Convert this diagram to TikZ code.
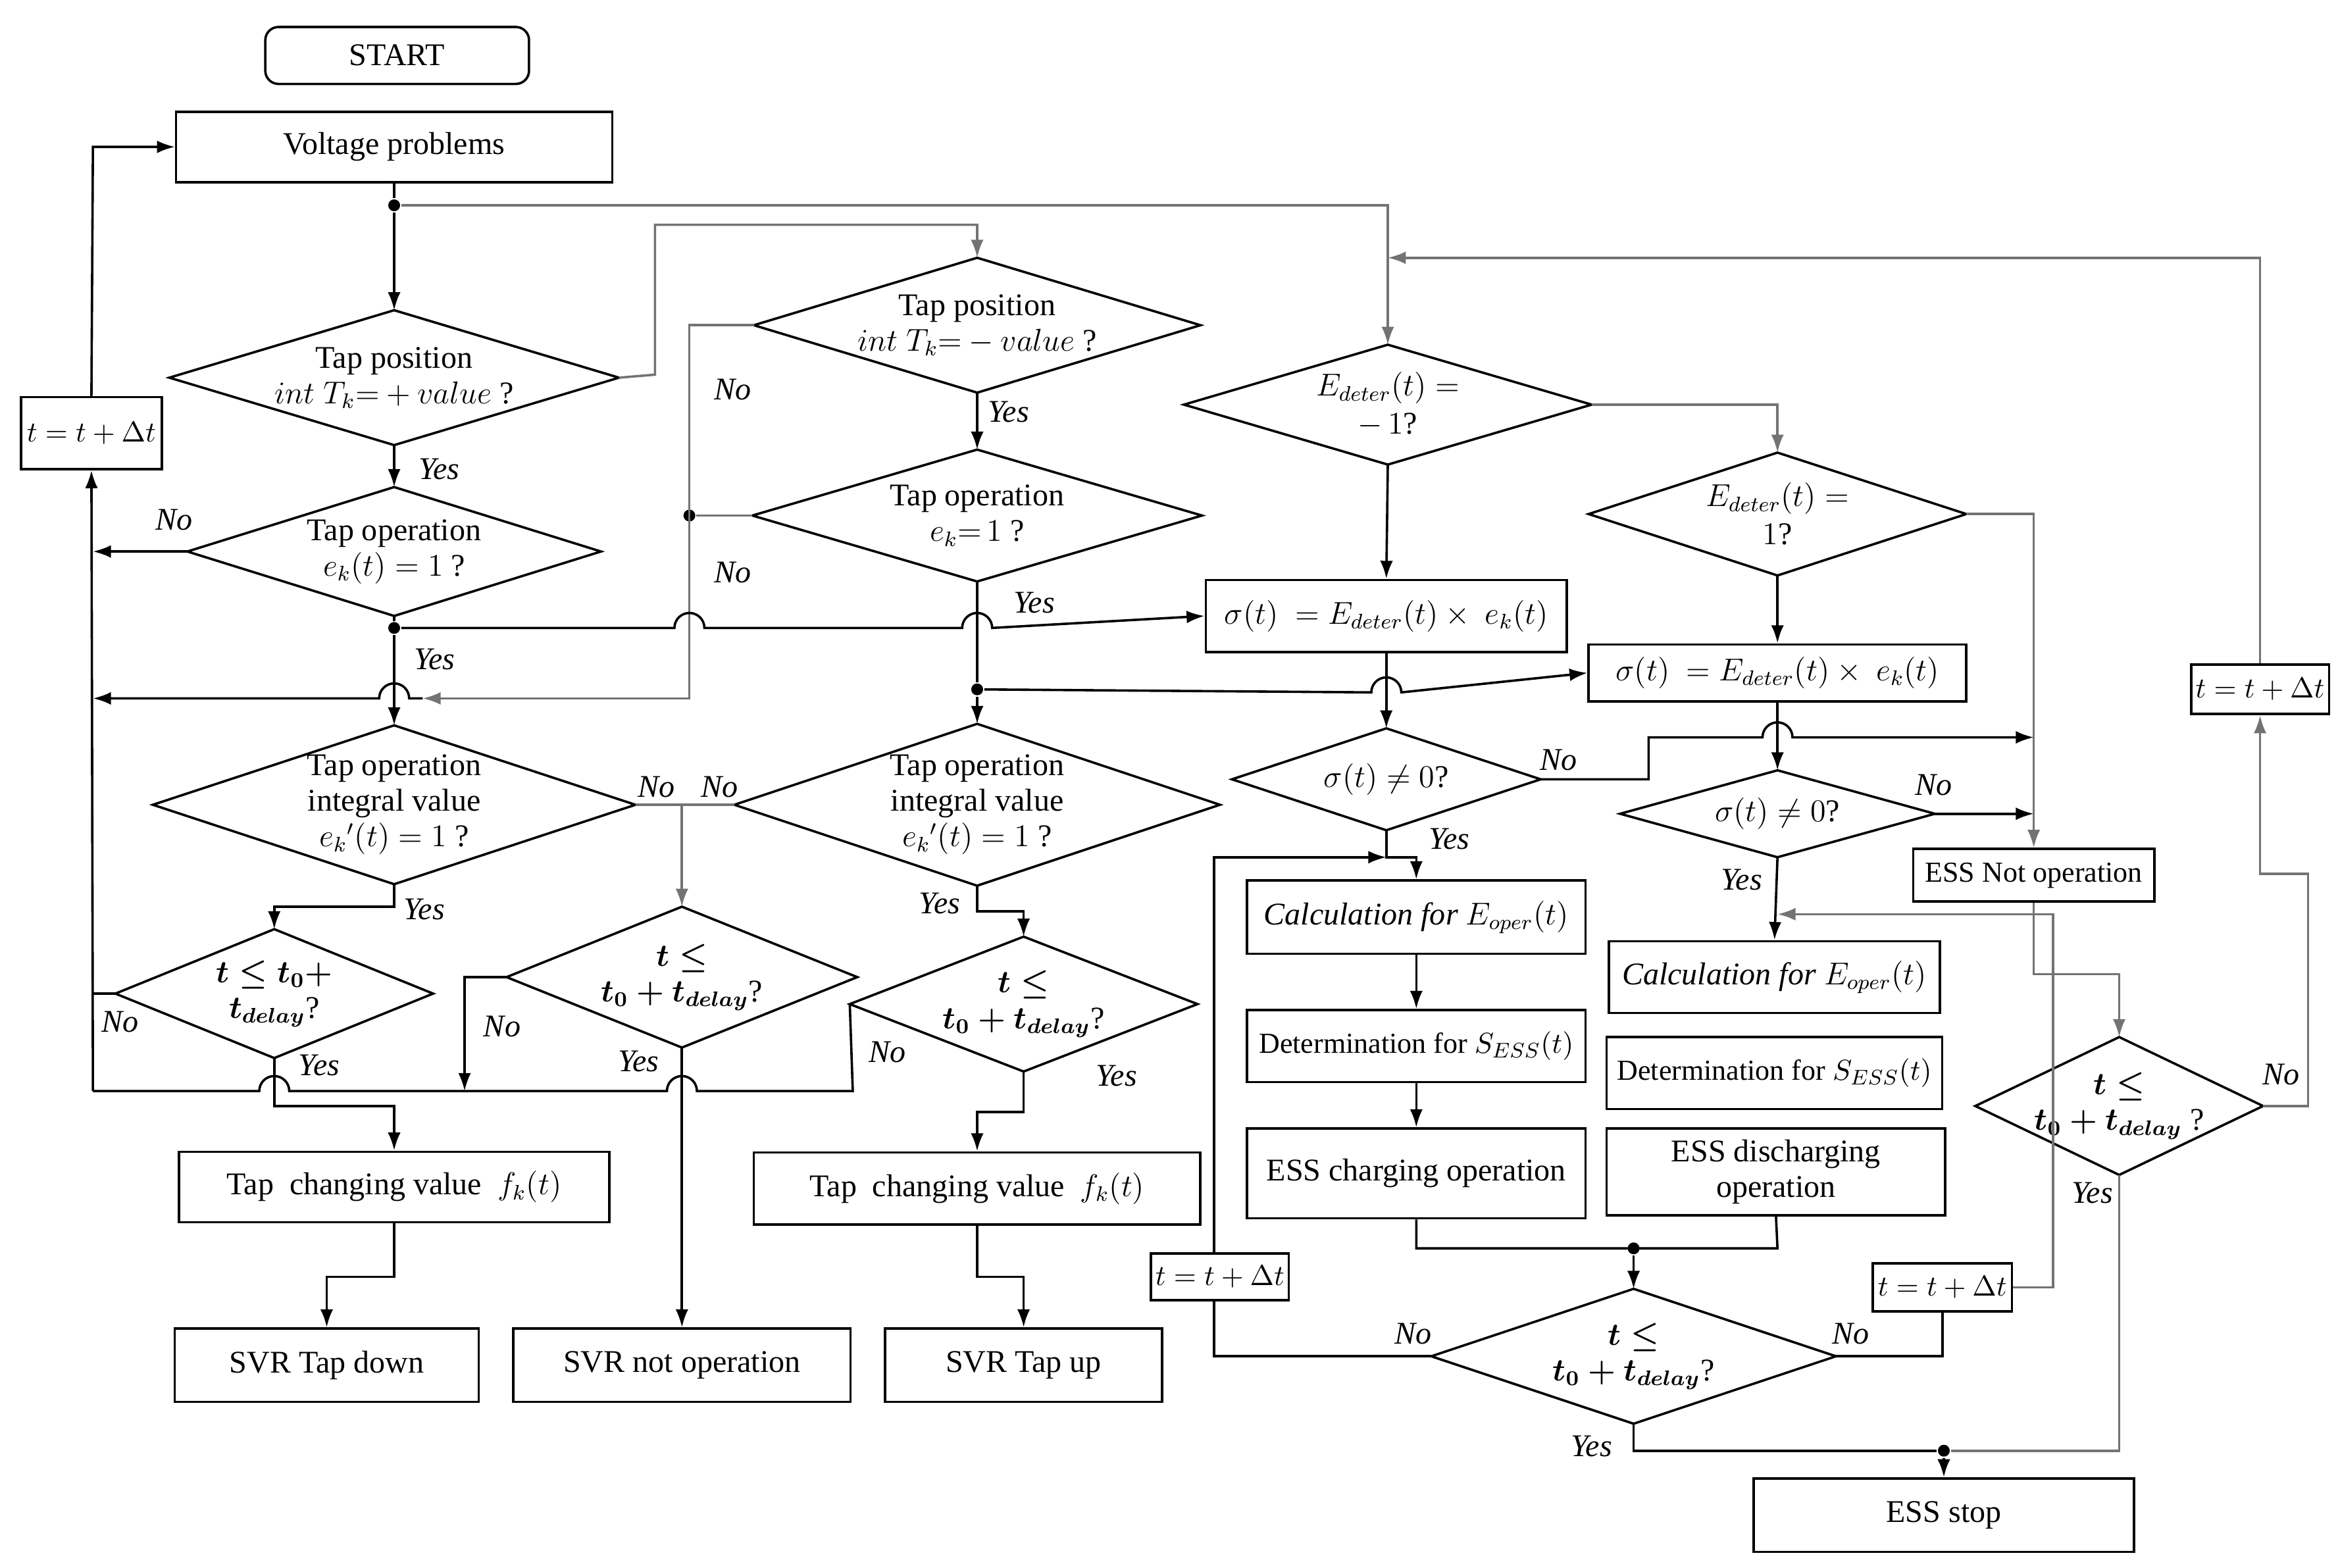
\documentclass[tikz,border=0pt]{standalone}
\usepackage{fontspec}
\setmainfont{Liberation Serif}
\usepackage{amsmath}
\usetikzlibrary{arrows.meta}
\begin{document}
\begin{tikzpicture}[x=0.02cm,y=-0.02cm,line width=0.9pt,
  font=\fontsize{12}{13.5}\selectfont,
  box/.style={draw,rectangle,inner sep=0pt,align=center},
  sm/.style={font=\fontsize{11}{12.5}\selectfont},
  txt/.style={align=center,inner sep=0pt},
  lab/.style={font=\fontsize{12}{13.5}\selectfont\itshape,inner sep=0pt},
  ar/.style={-{Latex[length=2.4mm,width=1.7mm]}},
  g/.style={draw=black!55},
  dot/.style={circle,fill,inner sep=0pt,minimum size=4.5pt}]
\useasboundingbox (0,0) rectangle (1560,1046);
\newcommand\dia[6]{\draw (#2,#3-#5) coordinate(#1n) -- (#2+#4,#3) coordinate(#1e) -- (#2,#3+#5) coordinate(#1s) -- (#2-#4,#3) coordinate(#1w) -- cycle; \node[txt] (#1) at (#2,#3) {#6};}
% boxes
\node[box,rounded corners=5pt,minimum width=3.52cm,minimum height=0.76cm] (start) at (265,37) {START};
\node[box,minimum width=5.82cm,minimum height=0.94cm] (vp) at (263,98) {Voltage problems};
\node[box,sm,minimum width=1.88cm,minimum height=0.96cm] (tb1) at (61,289) {$t=t+\Delta t$};
\node[box,minimum width=5.74cm,minimum height=0.94cm] (tc1) at (263,792) {Tap\ \ changing value\ \ $f_k(t)$};
\node[box,minimum width=5.96cm,minimum height=0.96cm] (tc2) at (652,793) {Tap\ \ changing value\ \ $f_k(t)$};
\node[box,minimum width=4.06cm,minimum height=0.98cm] (sd) at (218,911) {SVR Tap down};
\node[box,minimum width=4.5cm,minimum height=0.98cm] (sn) at (455,911) {SVR not operation};
\node[box,minimum width=3.7cm,minimum height=0.98cm] (su) at (683,911) {SVR Tap up};
\node[box,minimum width=4.82cm,minimum height=0.96cm] (sig1) at (925,411) {$\sigma(t)\ =E_{deter}(t)\times\ e_k(t)$};
\node[box,minimum width=5.04cm,minimum height=0.76cm] (sig2) at (1186,449) {$\sigma(t)\ =E_{deter}(t)\times\ e_k(t)$};
\node[box,minimum width=4.52cm,minimum height=0.98cm] (c1) at (945,612) {\textit{Calculation for} $E_{oper}(t)$};
\node[box,sm,minimum width=4.52cm,minimum height=0.96cm] (d1) at (945,698) {Determination for $S_{ESS}(t)$};
\node[box,minimum width=4.52cm,minimum height=1.2cm] (ch) at (945,783) {ESS charging operation};
\node[box,minimum width=4.42cm,minimum height=0.96cm] (c2) at (1184,652) {\textit{Calculation for} $E_{oper}(t)$};
\node[box,sm,minimum width=4.48cm,minimum height=0.96cm] (d2) at (1184,716) {Determination for $S_{ESS}(t)$};
\node[box,minimum width=4.52cm,minimum height=1.16cm] (dc) at (1185,782) {ESS discharging\\operation};
\node[box,sm,minimum width=3.22cm,minimum height=0.7cm] (eno) at (1357,584) {ESS Not operation};
\node[box,sm,minimum width=1.84cm,minimum height=0.62cm] (tb2) at (814,852) {$t=t+\Delta t$};
\node[box,sm,minimum width=1.86cm,minimum height=0.64cm] (tb3) at (1296,859) {$t=t+\Delta t$};
\node[box,sm,minimum width=1.84cm,minimum height=0.66cm] (tb4) at (1508,460) {$t=t+\Delta t$};
\node[box,minimum width=5.08cm,minimum height=0.98cm] (stop) at (1297,1011) {ESS stop};
% diamonds
\dia{D1}{263}{252}{150}{45}{Tap position\\ $int\;T_k{=}+value$ ?}
\dia{D2}{652}{217}{149}{45}{Tap position\\ $int\;T_k{=}-value$ ?}
\dia{D3}{652}{344}{150}{44}{Tap operation\\ $e_k{=}\,1$ ?}
\dia{D4}{263}{368}{138}{43}{Tap operation\\ $e_k(t)=1$ ?}
\dia{D5}{263}{537}{161}{53}{Tap operation\\ integral value\\ $e_k{}'(t)=1$ ?}
\dia{D6}{652}{537}{162}{54}{Tap operation\\ integral value\\ $e_k{}'(t)=1$ ?}
\dia{D7}{455}{652}{117}{47}{$\boldsymbol{t\le}$\\ $\boldsymbol{t_0+t_{delay}}$?}
\dia{D8}{183}{663}{106}{43}{$\boldsymbol{t\le t_0+}$\\ $\boldsymbol{t_{delay}}$?}
\dia{D9}{683}{670}{116}{45}{$\boldsymbol{t\le}$\\ $\boldsymbol{t_0+t_{delay}}$?}
\dia{E1}{926}{270}{136}{40}{$E_{deter}(t)=$\\[1pt] $-\,1$?}
\dia{E2}{1186}{343}{126}{41}{$E_{deter}(t)=$\\[1pt] $1$?}
\dia{F1}{925}{520}{103}{34}{$\sigma(t)\neq0$?}
\dia{F2}{1186}{543}{105}{29}{$\sigma(t)\neq0$?}
\dia{G}{1090}{905}{135}{45}{$\boldsymbol{t\le}$\\ $\boldsymbol{t_0+t_{delay}}$?}
\dia{H}{1414}{738}{96}{46}{$\boldsymbol{t\le}$\\ $\boldsymbol{t_0+t_{delay}}$ ?}
% connectors top
\node[dot] (j1) at (263,137) {};
\draw (vp.south) -- (j1);
\draw[ar] (j1) -- (D1n);
\draw[ar,g] (j1) -- (926,137) -- (E1n);
\draw[ar,g] (D1e) -- (437,250) -- (437,150) -- (652,150) -- (D2n);
\draw[ar] (D1s) -- (D4n);
\draw[ar] (D2s) -- (D3n);
\draw[ar] (D4w) -- (62,368);
% left loop
\draw[ar] (62,728) -- (tb1.south);
\draw[ar] (tb1.north) -- (62,98) -- (vp.west);
% D2 no / D3 no
\node[dot] (j2) at (460,344) {};
\draw[ar,g] (D2w) -- (460,217) -- (460,466) -- (282,466);
\draw[g] (D3w) -- (j2);
\draw[ar] (282,466) -- (273,466) arc (0:-180:10) -- (62,466);
% D4 yes path
\node[dot] (j3) at (263,419) {};
\draw (D4s) -- (j3);
\draw[ar] (j3) -- (D5n);
\draw[ar] (j3) -- (450,419) arc (180:360:10) -- (642,419) arc (180:360:10) -- (sig1.west);
% D3 down
\node[dot] (j4) at (652,460) {};
\draw (D3s) -- (j4);
\draw[ar] (j4) -- (D6n);
\draw[ar] (j4) -- (915,462) arc (180:360:10) -- (sig2.west);
% D5/D6 No
\draw[ar,g] (D5e) -- (455,537) -- (D7n);
\draw[g] (D6w) -- (455,537);
% D5 yes
\draw[ar] (D5s) -- (263,605) -- (183,605) -- (D8n);
\draw[ar] (D6s) -- (652,608) -- (683,608) -- (D9n);
% bottom No line
\draw (D9w) -- (569,728) -- (465,728) arc (0:-180:10) -- (193,728) arc (0:-180:10) -- (62,728);
\draw (D8w) -- (62,663);
\draw[ar] (D7w) -- (310,652) -- (310,728);
% yes to boxes
\draw[ar] (D8s) -- (183,738) -- (263,738) -- (tc1.north);
\draw[ar] (D7s) -- (sn.north);
\draw[ar] (D9s) -- (683,742) -- (652,742) -- (tc2.north);
\draw[ar] (tc1.south) -- (263,852) -- (218,852) -- (sd.north);
\draw[ar] (tc2.south) -- (652,852) -- (683,852) -- (su.north);
% right part
\draw[ar] (E1s) -- (sig1.north);
\draw[ar,g] (E1e) -- (1186,270) -- (E2n);
\draw[ar] (E2s) -- (sig2.north);
\draw[ar,g] (E2e) -- (1357,343) -- (eno.north);
\draw[ar] (sig1.south) -- (F1n);
\draw[ar] (sig2.south) -- (F2n);
\draw[ar] (F1e) -- (1100,520) -- (1100,492) -- (1176,492) arc (180:360:10) -- (1357,492);
\draw[ar] (F2e) -- (1357,543);
\draw[ar] (F1s) -- (925,572) -- (945,572) -- (c1.north);
\draw[ar] (c1.south) -- (d1.north);
\draw[ar] (d1.south) -- (ch.north);
\draw[ar] (F2s) -- (c2.north);
\node[dot] (j5) at (1090,833) {};
\draw (ch.south) -- (945,833) -- (1186,833) -- (dc.south);
\draw[ar] (j5) -- (Gn);
\draw (Gw) -- (810,905) -- (tb2.south-|810,0);
\draw[ar] (tb2.north-|810,0) -- (810,572) -- (925,572);
\draw (Ge) -- (1296,905) -- (tb3.south);
\draw[ar,g] (tb3.east) -- (1370,859) -- (1370,610) -- (1186,610);
\node[dot] (j6) at (1297,968) {};
\draw (Gs) -- (1090,968) -- (j6);
\draw[ar] (j6) -- (stop.north);
\draw[ar,g] (eno.south) -- (1357,650) -- (1414,650) -- (Hn);
\draw[g] (Hs) -- (1414,968) -- (j6);
\draw[ar,g] (He) -- (1540,738) -- (1540,583) -- (1508,583) -- (tb4.south);
\draw[ar,g] (tb4.north) -- (1508,172) -- (926,172);
% labels
\foreach \t/\x/\y in {Yes/293/313, No/116/347, Yes/290/440, No/489/260, Yes/673/275, No/489/382, Yes/690/402,
  No/438/525, No/480/525, Yes/283/607, Yes/627/603, No/80/682, Yes/213/711, No/335/685, Yes/426/708, No/592/702,
  Yes/745/718, Yes/967/560, No/1040/507, No/1290/524, Yes/1162/587, No/943/890, No/1235/890, Yes/1062/965,
  No/1522/717, Yes/1396/796}
  \node[lab] at (\x,\y) {\t};
\end{tikzpicture}
\end{document}
